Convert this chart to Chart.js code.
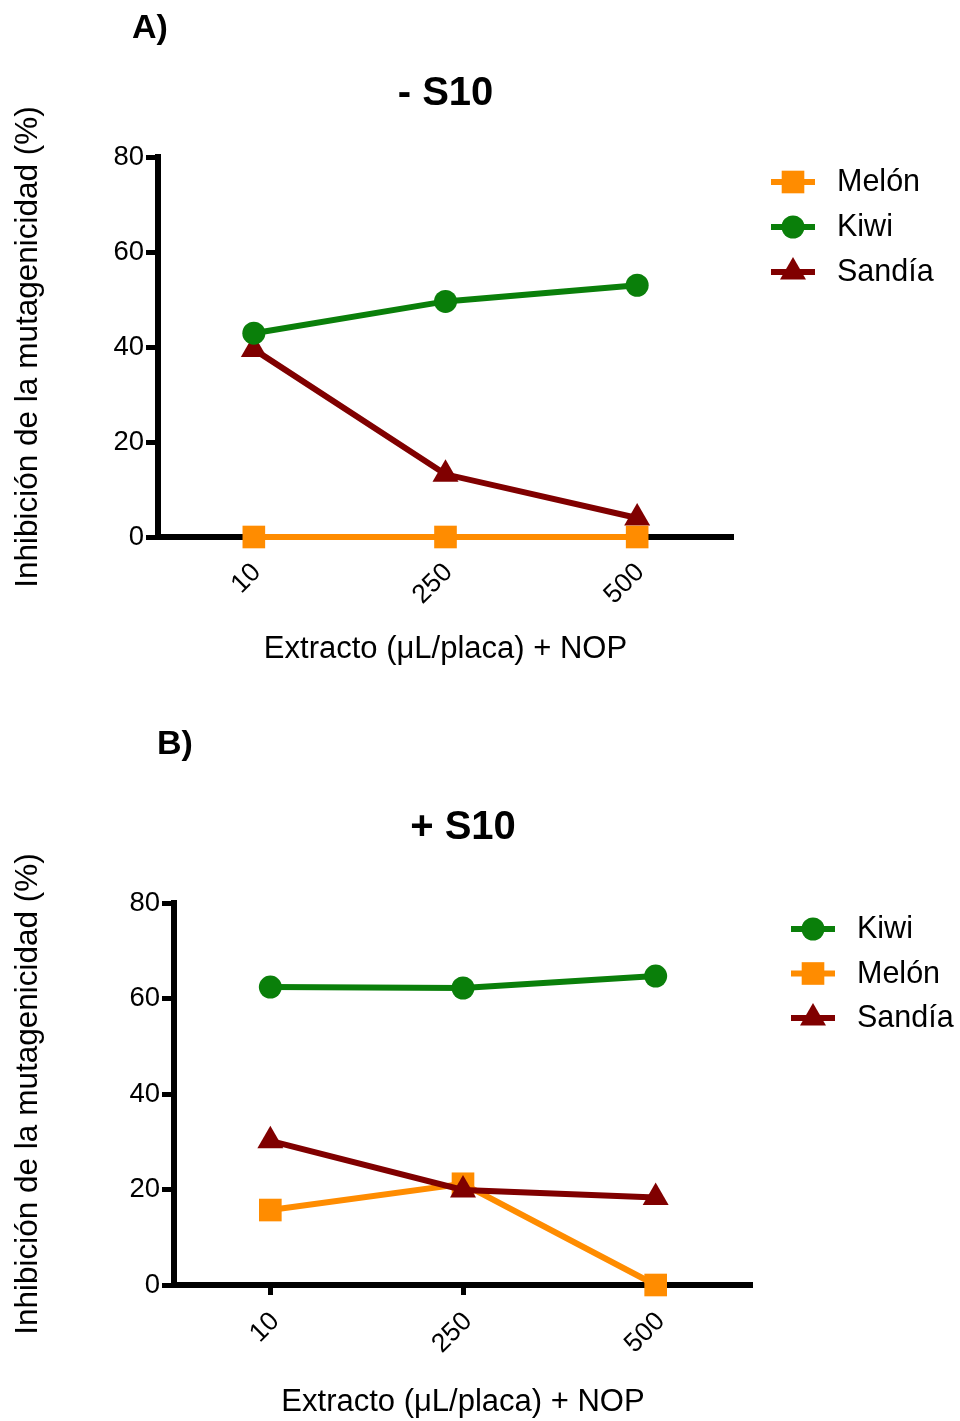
<!DOCTYPE html>
<html>
<head>
<meta charset="utf-8">
<script src="https://cdn.jsdelivr.net/npm/chart.js@4.4.1/dist/chart.umd.min.js"></script>
<style>
  html, body { margin: 0; padding: 0; background: #fff; }
  #wrap { position: relative; width: 960px; height: 1421px; }
  canvas { position: absolute; left: 0; }
</style>
</head>
<body>
<div id="wrap">
  <canvas id="chartA" width="960" height="710" style="top:0"></canvas>
  <canvas id="chartB" width="960" height="711" style="top:710px"></canvas>
</div>
<script>
// DATA
const categories = ['10', '250', '500'];
const yTicks = [0, 20, 40, 60, 80];

// panel A (- S10)
const melonA = [0, 0, 0];
const kiwiA = [42.9, 49.6, 53.0];
const sandiaA = [39.5, 13.2, 4.0];

// panel B (+ S10)
const kiwiB = [62.4, 62.2, 64.7];
const melonB = [15.7, 21.2, 0];
const sandiaB = [30.2, 19.9, 18.3];

const FONT = "'Liberation Sans', Arial, Helvetica, sans-serif";
const ORANGE = '#ff8c00';
const GREEN = '#0a7f0a';
const RED = '#800000';

const styles = {
    'Melón': { color: ORANGE, pointStyle: 'rect', radius: 16 },
    'Kiwi': { color: GREEN, pointStyle: 'circle', radius: 11.5 },
    'Sandía': { color: RED, pointStyle: 'triangle', radius: 15 }
};

function series(label, data, order) {
    const s = styles[label];
    return {
        label: label,
        data: data,
        order: order,
        borderColor: s.color,
        backgroundColor: s.color,
        borderWidth: 6,
        pointStyle: s.pointStyle,
        pointRadius: s.radius,
        pointHoverRadius: s.radius,
        pointBorderWidth: 0,
        tension: 0,
        clip: false
    };
}

// panel label, title and legend drawn on the canvas
const decor = {
    id: 'decor',
    afterDraw(chart, args, opts) {
        const ctx = chart.ctx;
        const area = chart.chartArea;
        ctx.save();
        ctx.fillStyle = '#000';
        ctx.textBaseline = 'middle';
        ctx.font = 'bold 34px ' + FONT;
        ctx.textAlign = 'left';
        ctx.fillText(opts.panel, opts.panelX, opts.panelY);
        ctx.font = 'bold 40px ' + FONT;
        ctx.textAlign = 'center';
        ctx.fillText(opts.title, (area.left + area.right) / 2, opts.titleY);

        ctx.font = '30.5px ' + FONT;
        ctx.textAlign = 'left';
        opts.legend.forEach((name, i) => {
            const s = styles[name];
            const y = opts.legendY + i * opts.legendGap;
            const cx = opts.legendX;
            ctx.strokeStyle = s.color;
            ctx.fillStyle = s.color;
            ctx.lineWidth = 6;
            ctx.beginPath();
            ctx.moveTo(cx - 22, y);
            ctx.lineTo(cx + 22, y);
            ctx.stroke();
            Chart.helpers.drawPoint(ctx, { pointStyle: s.pointStyle, radius: s.radius, rotation: 0, borderWidth: 0 }, cx, y);
            ctx.fillStyle = '#000';
            ctx.fillText(name, cx + 44, y + 1);
        });
        ctx.restore();
    }
};

function makeChart(id, datasets, geo, decorOpts) {
    const canvas = document.getElementById(id);
    return new Chart(canvas.getContext('2d'), {
        type: 'line',
        data: { labels: categories, datasets: datasets },
        options: {
            responsive: false,
            animation: false,
            devicePixelRatio: 1,
            layout: {
                padding: {
                    left: 0,
                    right: 960 - geo.right,
                    top: geo.top,
                    bottom: canvas.height - geo.bottom - geo.xHeight
                }
            },
            plugins: {
                legend: { display: false },
                tooltip: { enabled: false },
                decor: decorOpts
            },
            scales: {
                x: {
                    offset: true,
                    border: { display: true, color: '#000', width: 6 },
                    grid: {
                        drawOnChartArea: false,
                        drawTicks: geo.xTicks,
                        tickLength: 10,
                        tickWidth: 5,
                        tickColor: '#000'
                    },
                    ticks: {
                        color: '#000',
                        font: { family: FONT, size: 26.5 },
                        minRotation: 45,
                        maxRotation: 45,
                        padding: geo.xPad,
                        labelOffset: geo.xShift
                    },
                    title: {
                        display: true,
                        text: 'Extracto (\u03bcL/placa) + NOP',
                        color: '#000',
                        font: { family: FONT, size: 31 },
                        padding: 0
                    },
                    afterFit(scale) { scale.height = geo.xHeight; }
                },
                y: {
                    min: 0,
                    max: 80,
                    border: { display: true, color: '#000', width: 6 },
                    grid: {
                        drawOnChartArea: false,
                        drawTicks: true,
                        tickLength: 12,
                        tickWidth: 5,
                        tickColor: '#000'
                    },
                    afterBuildTicks(scale) { scale.ticks = yTicks.map(v => ({ value: v })); },
                    ticks: {
                        color: '#000',
                        font: { family: FONT, size: 27.5 },
                        padding: 2
                    },
                    title: {
                        display: true,
                        text: 'Inhibición de la mutagenicidad (%)',
                        color: '#000',
                        font: { family: FONT, size: 31.5 },
                        padding: { top: 9, bottom: 0 }
                    },
                    afterFit(scale) { scale.width = geo.left; }
                }
            }
        },
        plugins: [decor]
    });
}

makeChart('chartA',
    [series('Melón', melonA, 0), series('Kiwi', kiwiA, 1), series('Sandía', sandiaA, 2)],
    { left: 158, right: 733, top: 157, bottom: 537, xHeight: 130.6, xTicks: false, xPad: 20, xShift: 3 },
    { panel: 'A)', panelX: 132, panelY: 29, title: '- S10', titleY: 94,
      legend: ['Melón', 'Kiwi', 'Sandía'], legendX: 793, legendY: 182, legendGap: 45 });

makeChart('chartB',
    [series('Kiwi', kiwiB, 1), series('Melón', melonB, 2), series('Sandía', sandiaB, 0)],
    { left: 174, right: 752, top: 193, bottom: 575, xHeight: 135.6, xTicks: true, xPad: 11, xShift: 5 },
    { panel: 'B)', panelX: 157, panelY: 35, title: '+ S10', titleY: 118,
      legend: ['Kiwi', 'Melón', 'Sandía'], legendX: 813, legendY: 219, legendGap: 44.5 });
</script>
</body>
</html>
